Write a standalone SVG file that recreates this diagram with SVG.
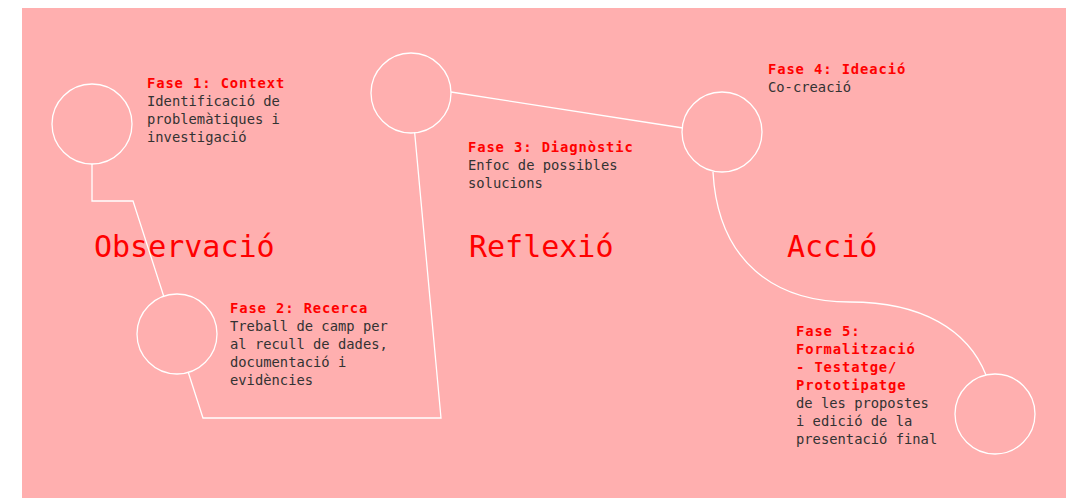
<svg xmlns="http://www.w3.org/2000/svg" width="1068" height="499" viewBox="0 0 1068 499">
<style>
.bg{fill:#ffafaf}
.ln{fill:none;stroke:#fff;stroke-width:1.3}
.nd{fill:#ffafaf;stroke:#fff;stroke-width:1.3}
.t{font-family:"DejaVu Sans Mono","Liberation Mono",monospace;font-size:13.8px}
.h{fill:#ff0000;font-weight:bold;letter-spacing:0.9px}
.b{fill:#333333}
.big{font-family:"DejaVu Sans Mono","Liberation Mono",monospace;font-size:30px;fill:#ff0000;font-weight:300}
</style>
<rect class="bg" x="22" y="8" width="1044" height="490"/>
<g id="connectors">
<path class="ln" d="M92,124 V201 H133 L203,418 H441 L411,93"/>
<path class="ln" d="M451,92 L683,128"/>
<path class="ln" d="M713,172 C718,262 775,302 850,302 C922,302 968,330 986,375"/>
</g>
<g id="section-labels">
<text class="big" x="94" y="257">Observació</text>
<text class="big" x="469" y="257">Reflexió</text>
<text class="big" x="787" y="257">Acció</text>
</g>
<g id="fase1">
<circle class="nd" cx="92" cy="124" r="40"/>
<text class="t h" x="147" y="88">Fase 1: Context</text>
<text class="t b" x="147" y="106">Identificació de</text>
<text class="t b" x="147" y="124">problemàtiques i</text>
<text class="t b" x="147" y="142">investigació</text>
</g>
<g id="fase2">
<circle class="nd" cx="177" cy="334" r="40"/>
<text class="t h" x="230" y="313">Fase 2: Recerca</text>
<text class="t b" x="230" y="331">Treball de camp per</text>
<text class="t b" x="230" y="349">al recull de dades,</text>
<text class="t b" x="230" y="367">documentació i</text>
<text class="t b" x="230" y="385">evidències</text>
</g>
<g id="fase3">
<circle class="nd" cx="411" cy="93" r="40"/>
<text class="t h" x="468" y="152">Fase 3: Diagnòstic</text>
<text class="t b" x="468" y="170">Enfoc de possibles</text>
<text class="t b" x="468" y="188">solucions</text>
</g>
<g id="fase4">
<circle class="nd" cx="722" cy="132" r="40"/>
<text class="t h" x="768" y="74">Fase 4: Ideació</text>
<text class="t b" x="768" y="92">Co-creació</text>
</g>
<g id="fase5">
<circle class="nd" cx="995" cy="414" r="40"/>
<text class="t h" x="796" y="336">Fase 5:</text>
<text class="t h" x="796" y="354">Formalització</text>
<text class="t h" x="796" y="372">- Testatge/</text>
<text class="t h" x="796" y="390">Prototipatge</text>
<text class="t b" x="796" y="408">de les propostes</text>
<text class="t b" x="796" y="426">i edició de la</text>
<text class="t b" x="796" y="444">presentació final</text>
</g>
</svg>
